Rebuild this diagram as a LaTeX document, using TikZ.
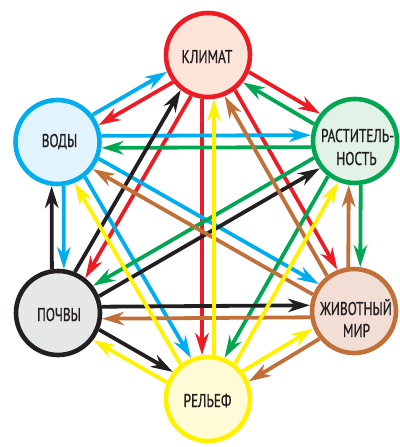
\documentclass[tikz,border=0pt]{standalone}
\usepackage{fontspec}
\setmainfont{PT Sans}[FakeStretch=0.72,FakeBold=0.9]
\usetikzlibrary{arrows.meta,calc}
\pgfdeclarelayer{bg}
\pgfsetlayers{bg,main}
\definecolor{cred}{HTML}{ED1C24}
\definecolor{cblue}{HTML}{00AEEF}
\definecolor{cgreen}{HTML}{00A651}
\definecolor{cblack}{HTML}{231F20}
\definecolor{cbrown}{HTML}{C1703A}
\definecolor{cyellow}{HTML}{FFF200}
\definecolor{fred}{HTML}{FCE4D8}
\definecolor{fblue}{HTML}{E1F3FC}
\definecolor{fgreen}{HTML}{E2F2E6}
\definecolor{fblack}{HTML}{E6E7E8}
\definecolor{fbrown}{HTML}{F2DED4}
\definecolor{fyellow}{HTML}{FFFBD6}
\tikzset{
 hub/.style={circle, line width=4.6pt, minimum size=84pt, inner sep=0pt},
 lbl/.style={anchor=base, inner sep=0pt, text=cblack, font=\fontsize{18.5}{20}\selectfont},
 arr/.style={line width=3.8pt, -{Stealth[length=22pt,width=13.5pt,inset=7pt]}},
}
\newcommand\linkL[3]{\draw[arr,#3] ($(#1.center)!44pt!(#2.center)!6pt!90:(#2.center)$) -- ($(#2.center)!44pt!(#1.center)!6pt!-90:(#1.center)$);}
\newcommand\linkR[3]{\draw[arr,#3] ($(#1.center)!44pt!(#2.center)!6pt!-90:(#2.center)$) -- ($(#2.center)!44pt!(#1.center)!6pt!90:(#1.center)$);}
\begin{document}
\begin{tikzpicture}[x=1pt,y=-1pt]
\useasboundingbox (0,0) rectangle (399,447);
\node[hub, draw=cred, fill=fred] (K) at (208,55) {};
\node[hub, draw=cblue, fill=fblue] (V) at (57.5,142) {};
\node[hub, draw=cgreen, fill=fgreen] (R) at (355,141) {};
\node[hub, draw=cblack, fill=fblack] (P) at (58,313) {};
\node[hub, draw=cbrown, fill=fbrown] (Z) at (354,311) {};
\node[hub, draw=cyellow, fill=fyellow] (E) at (208,399) {};
\node[lbl] (Kt) at (207,63) {КЛИМАТ};
\node[lbl] (Vt) at (59.5,147) {ВОДЫ};
\node[lbl] (Rt1) at (357.5,142) {РАСТИТЕЛЬ-};
\node[lbl] (Rt2) at (356.5,165) {НОСТЬ};
\node[lbl] (Pt) at (59,321) {ПОЧВЫ};
\node[lbl] (Zt1) at (356,315) {ЖИВОТНЫЙ};
\node[lbl] (Zt2) at (356.5,337) {МИР};
\node[lbl] (Et) at (207.5,407) {РЕЛЬЕФ};
\begin{pgfonlayer}{bg}
\linkL{K}{V}{cred}
\linkL{K}{R}{cred}
\linkL{K}{P}{cred}
\linkL{K}{Z}{cred}
\linkR{K}{E}{cred}
\linkL{V}{K}{cblue}
\linkL{V}{R}{cblue}
\linkL{V}{P}{cblue}
\linkL{V}{Z}{cblue}
\linkL{V}{E}{cblue}
\linkL{R}{K}{cgreen}
\linkL{R}{V}{cgreen}
\linkL{R}{Z}{cgreen}
\linkR{R}{P}{cgreen}
\linkR{R}{E}{cgreen}
\linkL{P}{V}{cblack}
\linkL{P}{K}{cblack}
\linkR{P}{R}{cblack}
\linkL{P}{Z}{cblack}
\linkL{P}{E}{cblack}
\linkL{Z}{R}{cbrown}
\linkL{Z}{K}{cbrown}
\linkL{Z}{V}{cbrown}
\linkL{Z}{P}{cbrown}
\linkL{Z}{E}{cbrown}
\linkR{E}{K}{cyellow}
\linkL{E}{V}{cyellow}
\linkL{E}{P}{cyellow}
\linkR{E}{R}{cyellow}
\linkL{E}{Z}{cyellow}
\end{pgfonlayer}
\end{tikzpicture}
\end{document}
